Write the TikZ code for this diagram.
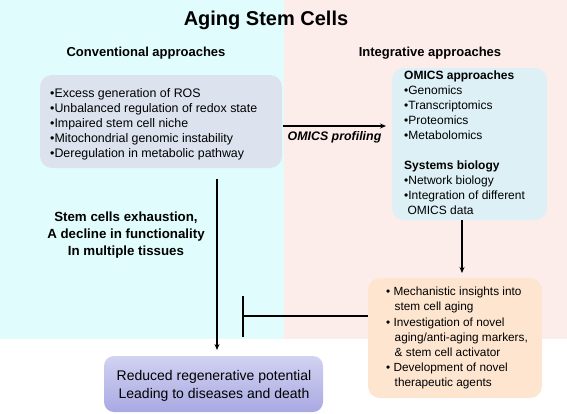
\documentclass[tikz,border=0pt]{standalone}
\usepackage{fontspec}
\setmainfont{Liberation Sans}
\usetikzlibrary{arrows.meta}
\definecolor{cyanbg}{HTML}{E0FCFC}
\definecolor{pinkbg}{HTML}{FCEDEA}
\definecolor{convbox}{HTML}{DCE3EE}
\definecolor{omicsbox}{HTML}{DCF0F5}
\definecolor{peachbox}{HTML}{FDE5CF}
\definecolor{purtop}{HTML}{D2D2F2}
\definecolor{purbot}{HTML}{A9A9E3}
\tikzset{
  x=1pt, y=-1pt,
  txt/.style={font=\fontsize{12.4}{15.2}\selectfont, align=left, inner sep=0pt},
  txtb/.style={font=\fontsize{11.8}{15.2}\selectfont, align=left, inner sep=0pt},
  hdr/.style={font=\fontsize{13}{15}\selectfont\bfseries, inner sep=0pt},
  rbox/.style={rounded corners=12pt, draw=none},
  arr/.style={-{Stealth[length=6pt,width=5pt]}, line width=1.2pt},
  ln/.style={line width=1.2pt}
}
\begin{document}
\begin{tikzpicture}
\useasboundingbox (0,0) rectangle (567,413);
\fill[cyanbg] (0,0) rectangle (284,339);
\fill[pinkbg] (284,0) rectangle (567,339);
% title
\node[inner sep=0pt, font=\fontsize{20}{24}\selectfont\bfseries] (title) at (266,20) {Aging Stem Cells};
\node[hdr] (conv) at (146,53) {Conventional approaches};
\node[hdr] (integ) at (430,53) {Integrative approaches};
% left box
\fill[convbox, rbox] (40,75) rectangle (282,168);
\node[txt, anchor=north west] (convtxt) at (50,88) {•Excess generation of ROS\\•Unbalanced regulation of redox state\\•Impaired stem cell niche\\•Mitochondrial genomic instability\\•Deregulation in metabolic pathway};
\coordinate (convE) at (283,126);
% right box
\fill[omicsbox, rbox] (392,68) rectangle (547,220);
\node[txtb, anchor=north west, font=\fontsize{12}{15}\selectfont] (omtxt) at (404,71) {\textbf{OMICS approaches}\\•Genomics\\•Transcriptomics\\•Proteomics\\•Metabolomics\\[15pt]\textbf{Systems biology}\\•Network biology\\•Integration of different\\\ OMICS data};
\coordinate (omW) at (386,126);
\coordinate (omS) at (462,220);
% peach box
\fill[peachbox, rbox] (368,278) rectangle (542,398);
\node[txtb, anchor=north west] (petxt) at (386,287) {• Mechanistic insights into\\\ \ \,stem cell aging\\• Investigation of novel\\\ \ \,aging/anti-aging markers,\\\ \ \,\& stem cell activator\\• Development of novel\\\ \ \,therapeutic agents};
\coordinate (peN) at (462,273);
\coordinate (peW) at (368,316);
% bottom box
\shade[top color=purtop, bottom color=purbot, rounded corners=10pt] (104,356) rectangle (323,412);
\node[font=\fontsize{14}{18}\selectfont, align=center, inner sep=0pt] (bot) at (214,386) {Reduced regenerative potential\\Leading to diseases and death};
\coordinate (botN) at (217,350);
% side text
\node[font=\fontsize{13.3}{17}\selectfont\bfseries, align=center, inner sep=0pt] (exh) at (126,235) {Stem cells exhaustion,\\A decline in functionality\\In multiple tissues};
% connectors
\draw[arr] (convE) -- (omW) node[midway, below=5pt, font=\fontsize{12.4}{14}\selectfont\bfseries\itshape, inner sep=0pt] (prof) {OMICS profiling};
\draw[arr] (omS) -- (peN);
\coordinate (lftop) at (217,179);
\draw[arr] (lftop) -- (botN);
\coordinate (bar) at (243,316);
\draw[ln] (peW) -- (bar);
\draw[ln] (243,296) -- (243,337);
\end{tikzpicture}
\end{document}
